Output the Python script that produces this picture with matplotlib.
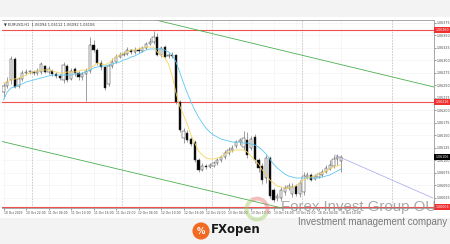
import matplotlib
matplotlib.use('Agg')
import matplotlib.pyplot as plt
from matplotlib.patches import Rectangle, Circle, Wedge
from matplotlib.ticker import MultipleLocator, FuncFormatter

# EURUSD H1 candles
opens = [1.06236, 1.06248, 1.06260, 1.06302, 1.06248, 1.06262, 1.06274, 1.06276, 1.06276, 1.06274,
         1.06276, 1.06288, 1.06276, 1.06278, 1.06272, 1.06268, 1.06260, 1.06288, 1.06262, 1.06282,
         1.06274, 1.06266, 1.06272, 1.06278, 1.06330, 1.06320, 1.06294, 1.06286, 1.06252, 1.06288,
         1.06296, 1.06306, 1.06310, 1.06312, 1.06320, 1.06316, 1.06320, 1.06318, 1.06324, 1.06332,
         1.06336, 1.06346, 1.06310, 1.06326, 1.06308, 1.06310, 1.06310, 1.06216, 1.06144, 1.06154,
         1.06142, 1.06136, 1.06100, 1.06080, 1.06088, 1.06086, 1.06088, 1.06094, 1.06100, 1.06106,
         1.06114, 1.06120, 1.06128, 1.06136, 1.06126, 1.06140, 1.06124, 1.06146, 1.06100, 1.06088,
         1.06064, 1.06104, 1.06040, 1.06024, 1.06024, 1.06036, 1.06044, 1.06032, 1.06048, 1.06032,
         1.06036, 1.06066, 1.06070, 1.06062, 1.06066, 1.06070, 1.06076, 1.06082, 1.06088, 1.06102,
         1.06098]
closes = [1.06248, 1.06256, 1.06302, 1.06246, 1.06262, 1.06274, 1.06276, 1.06278, 1.06274, 1.06278,
          1.06292, 1.06276, 1.06282, 1.06272, 1.06268, 1.06264, 1.06290, 1.06260, 1.06278, 1.06274,
          1.06266, 1.06272, 1.06278, 1.06330, 1.06320, 1.06294, 1.06286, 1.06244, 1.06288, 1.06296,
          1.06306, 1.06310, 1.06312, 1.06320, 1.06316, 1.06320, 1.06318, 1.06324, 1.06332, 1.06336,
          1.06346, 1.06310, 1.06324, 1.06306, 1.06310, 1.06308, 1.06216, 1.06160, 1.06158, 1.06140,
          1.06132, 1.06100, 1.06080, 1.06088, 1.06086, 1.06090, 1.06094, 1.06100, 1.06106, 1.06114,
          1.06120, 1.06124, 1.06136, 1.06140, 1.06144, 1.06110, 1.06142, 1.06100, 1.06084, 1.06060,
          1.06104, 1.06028, 1.06020, 1.06028, 1.06040, 1.06044, 1.06048, 1.06046, 1.06032, 1.06054,
          1.06068, 1.06070, 1.06060, 1.06068, 1.06072, 1.06076, 1.06084, 1.06090, 1.06102, 1.06106,
          1.06106]
highs = [1.06254, 1.06266, 1.06308, 1.06306, 1.06266, 1.06280, 1.06282, 1.06280, 1.06280, 1.06284,
         1.06296, 1.06290, 1.06288, 1.06282, 1.06276, 1.06272, 1.06296, 1.06292, 1.06284, 1.06286,
         1.06278, 1.06276, 1.06284, 1.06346, 1.06340, 1.06324, 1.06300, 1.06288, 1.06292, 1.06304,
         1.06312, 1.06316, 1.06318, 1.06326, 1.06322, 1.06326, 1.06326, 1.06328, 1.06336, 1.06344,
         1.06358, 1.06354, 1.06328, 1.06330, 1.06314, 1.06316, 1.06312, 1.06220, 1.06164, 1.06160,
         1.06146, 1.06140, 1.06104, 1.06094, 1.06092, 1.06094, 1.06098, 1.06104, 1.06110, 1.06120,
         1.06126, 1.06130, 1.06140, 1.06144, 1.06158, 1.06156, 1.06148, 1.06152, 1.06104, 1.06094,
         1.06110, 1.06108, 1.06044, 1.06034, 1.06046, 1.06050, 1.06054, 1.06054, 1.06052, 1.06060,
         1.06076, 1.06076, 1.06074, 1.06072, 1.06076, 1.06082, 1.06090, 1.06100, 1.06110, 1.06112,
         1.06110]
lows = [1.06224, 1.06244, 1.06252, 1.06244, 1.06244, 1.06258, 1.06270, 1.06272, 1.06270, 1.06270,
        1.06272, 1.06274, 1.06272, 1.06268, 1.06264, 1.06260, 1.06254, 1.06256, 1.06260, 1.06268,
        1.06260, 1.06260, 1.06218, 1.06274, 1.06316, 1.06290, 1.06280, 1.06240, 1.06248, 1.06284,
        1.06294, 1.06304, 1.06308, 1.06310, 1.06312, 1.06312, 1.06314, 1.06316, 1.06322, 1.06330,
        1.06332, 1.06308, 1.06306, 1.06304, 1.06304, 1.06304, 1.06212, 1.06156, 1.06134, 1.06136,
        1.06128, 1.06096, 1.06076, 1.06078, 1.06082, 1.06084, 1.06086, 1.06090, 1.06096, 1.06102,
        1.06110, 1.06116, 1.06124, 1.06130, 1.06120, 1.06104, 1.06120, 1.06094, 1.06076, 1.06052,
        1.06054, 1.06024, 1.06016, 1.06018, 1.06018, 1.06030, 1.06040, 1.06026, 1.06028, 1.06026,
        1.06030, 1.06062, 1.06058, 1.06060, 1.06064, 1.06066, 1.06074, 1.06080, 1.06084, 1.06090,
        1.06076]

# moving averages as drawn on the chart
ma_fast = [1.06254, 1.06256, 1.06260, 1.06262, 1.06264, 1.06266, 1.06270, 1.06274, 1.06276, 1.06278,
           1.06280, 1.06280, 1.06280, 1.06278, 1.06276, 1.06274, 1.06274, 1.06276, 1.06276, 1.06276,
           1.06278, 1.06280, 1.06280, 1.06284, 1.06288, 1.06294, 1.06292, 1.06290, 1.06294, 1.06300,
           1.06306, 1.06310, 1.06314, 1.06316, 1.06320, 1.06320, 1.06322, 1.06324, 1.06326, 1.06326,
           1.06326, 1.06316, 1.06310, 1.06304, 1.06292, 1.06268, 1.06234, 1.06208, 1.06190, 1.06172,
           1.06150, 1.06134, 1.06118, 1.06110, 1.06104, 1.06102, 1.06102, 1.06104, 1.06106, 1.06112,
           1.06116, 1.06118, 1.06120, 1.06120, 1.06120, 1.06116, 1.06108, 1.06100, 1.06092, 1.06080,
           1.06072, 1.06060, 1.06054, 1.06048, 1.06046, 1.06044, 1.06044, 1.06046, 1.06048, 1.06054,
           1.06060, 1.06064, 1.06066, 1.06068, 1.06072, 1.06074, 1.06078, 1.06082, 1.06086, 1.06088,
           1.06090]
ma_slow = [1.06220, 1.06236, 1.06244, 1.06246, 1.06250, 1.06252, 1.06256, 1.06258, 1.06260, 1.06262,
           1.06264, 1.06266, 1.06268, 1.06270, 1.06270, 1.06270, 1.06270, 1.06270, 1.06270, 1.06272,
           1.06272, 1.06274, 1.06276, 1.06280, 1.06284, 1.06286, 1.06288, 1.06288, 1.06290, 1.06292,
           1.06294, 1.06296, 1.06300, 1.06302, 1.06306, 1.06308, 1.06312, 1.06316, 1.06320, 1.06322,
           1.06322, 1.06322, 1.06322, 1.06320, 1.06316, 1.06310, 1.06296, 1.06276, 1.06254, 1.06234,
           1.06216, 1.06200, 1.06186, 1.06174, 1.06164, 1.06156, 1.06150, 1.06146, 1.06142, 1.06140,
           1.06138, 1.06136, 1.06136, 1.06136, 1.06134, 1.06134, 1.06132, 1.06130, 1.06126, 1.06120,
           1.06112, 1.06102, 1.06092, 1.06084, 1.06078, 1.06072, 1.06068, 1.06066, 1.06064, 1.06064,
           1.06064, 1.06064, 1.06064, 1.06064, 1.06064, 1.06066, 1.06068, 1.06070, 1.06074, 1.06078,
           1.06082]

# horizontal levels and drawn lines
red_levels = [1.06360, 1.06216, 1.06006]
last_price = 1.06106
channel_top = [(41.7, 1.06378), (114.8, 1.06246)]
channel_bottom = [(-0.4, 1.06137), (73.7, 1.06005)]
projection = [(88.4, 1.06110), (114.5, 1.06024)]

tick_pos = list(range(0, 91, 6))
tick_labels = ["10 Oct 2023", "10 Oct 22:00", "11 Oct 04:00", "11 Oct 10:00", "11 Oct 16:00",
               "11 Oct 22:00", "12 Oct 04:00", "12 Oct 10:00", "12 Oct 16:00", "12 Oct 22:00",
               "13 Oct 04:00", "13 Oct 10:00", "13 Oct 16:00", "13 Oct 22:00", "16 Oct 04:00",
               "16 Oct 10:00"]
day_breaks = [7.6, 31.6, 55.6, 79.6, 103.6]

W, H = 450, 244
fig = plt.figure(figsize=(4.5, 2.44), dpi=100)
fig.patch.set_facecolor('#f3f3f3')
fig.patches.append(Rectangle((0, 26 / H), 1, 201 / H, transform=fig.transFigure,
                             facecolor='white', edgecolor='none', zorder=-5))

ax = fig.add_axes([2 / W, 36 / H, 432 / W, 188 / H])
ax.set_facecolor('white')
x = list(range(len(closes)))

# grid + day separators
for xt in tick_pos:
    ax.axvline(xt, color='#e4e4e4', lw=0.4, ls=(0, (1, 1)), zorder=0)
ax.yaxis.set_major_locator(MultipleLocator(0.00025))
ax.grid(axis='y', color='#e4e4e4', lw=0.4, ls=(0, (1, 1)))
ax.set_axisbelow(True)
for xb in day_breaks:
    ax.axvline(xb, color='#a8a8a8', lw=0.4, ls=(0, (3, 2)), zorder=1)

# candles
ax.vlines(x, lows, highs, color='#555555', lw=0.4, zorder=2)
bottoms = [min(o, c) for o, c in zip(opens, closes)]
heights = [max(abs(c - o), 0.000012) for o, c in zip(opens, closes)]
colors = ['white' if c >= o else 'black' for o, c in zip(opens, closes)]
ax.bar(x, heights, bottom=bottoms, width=0.62, color=colors, edgecolor='#333333',
       linewidth=0.35, zorder=3)

ax.plot(x, ma_slow, color='#5cc8f2', lw=0.6, zorder=4)
ax.plot(x, ma_fast, color='#f7d55c', lw=0.6, zorder=4)

for lv in red_levels:
    ax.axhline(lv, color='#f05050', lw=0.8, zorder=2)
ax.axline(*channel_top, color='#4caf50', lw=0.6, zorder=2)
ax.axline(*channel_bottom, color='#4caf50', lw=0.6, zorder=2)
ax.plot(*zip(*projection), color='#a3a3ea', lw=0.5, zorder=2)

ax.set_xlim(-0.4, 114.8)
ax.set_ylim(1.06004, 1.06380)

ax.yaxis.tick_right()
ax.yaxis.set_major_formatter(FuncFormatter(lambda v, p: f"{v:.5f}"))
ax.tick_params(axis='y', labelsize=2.3, length=1.2, width=0.4, pad=0.8, colors='#444444')
ax.set_xticks(tick_pos)
ax.set_xticklabels(tick_labels, ha='left')
ax.tick_params(axis='x', labelsize=2.2, length=1.2, width=0.4, pad=1, colors='#444444')
for s in ax.spines.values():
    s.set_color('#9a9a9a')
    s.set_linewidth(0.6)
ax.spines['left'].set_visible(False)

ytr = ax.get_yaxis_transform()
for lv in red_levels:
    ax.text(1.003, lv, f"{lv:.5f}", transform=ytr, fontsize=2.3, color='white', va='center',
            ha='left', bbox=dict(boxstyle='square,pad=0.3', fc='#f03030', ec='none'),
            clip_on=False, zorder=6)
ax.text(1.003, last_price, f"{last_price:.5f}", transform=ytr, fontsize=2.3, color='white',
        va='center', ha='left', bbox=dict(boxstyle='square,pad=0.3', fc='black', ec='none'),
        clip_on=False, zorder=6)

ax.text(0.004, 0.985, "\u25bc EURUSD,H1  1.06094 1.06112 1.06092 1.06106", transform=ax.transAxes,
        fontsize=2.6, va='top', ha='left', color='#333333')

# watermark
ring = fig.add_axes([243 / W, 22 / H, 28 / W, 26 / H])
ring.set_aspect('equal')
ring.axis('off')
ring.add_patch(Wedge((0, 0), 1, -20, 120, width=0.32, fc='#e57373', alpha=0.45, ec='none'))
ring.add_patch(Wedge((0, 0), 1, 120, 340, width=0.32, fc='#9ccc65', alpha=0.45, ec='none'))
ring.set_xlim(-1.05, 1.05)
ring.set_ylim(-1.05, 1.05)

fig.text(281 / W, 1 - 207 / H, "Forex Invest Group OU", fontsize=10.8,
         family='Liberation Sans', color='#8c8c8c', alpha=0.75, va='center', ha='left')
fig.text(298 / W, 1 - 222 / H, "Investment management company", fontsize=7,
         family='Liberation Sans', color='#7a7a7a', va='center', ha='left')

# FXopen logo
logo = fig.add_axes([192 / W, 4 / H, 18 / W, 18 / H])
logo.set_aspect('equal')
logo.axis('off')
logo.add_patch(Circle((0, 0), 1, fc='#f26a21', ec='none'))
logo.text(0, 0, "%", fontsize=6, color='white', ha='center', va='center', fontweight='bold')
logo.set_xlim(-1.05, 1.05)
logo.set_ylim(-1.05, 1.05)
fig.text(211 / W, 1 - 230 / H, "FXopen", fontsize=8.5, fontweight='bold', color='#1a1a1a',
         va='center', ha='left')

fig.savefig('out.png', dpi=100, facecolor=fig.get_facecolor())
